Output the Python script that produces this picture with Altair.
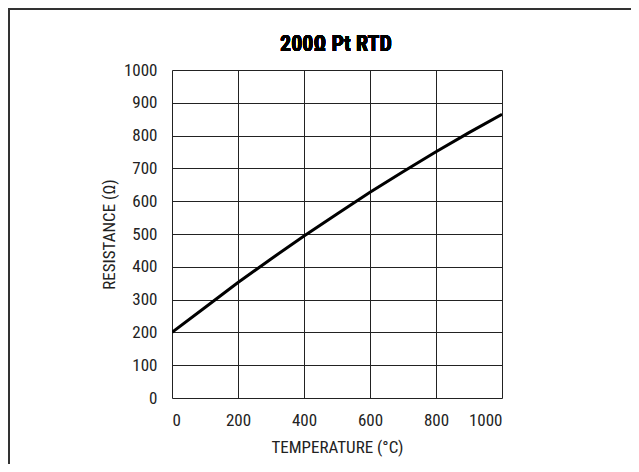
import altair as alt
import pandas as pd

# Temperature (°C) and resistance (Ω)
temperature = [0, 100, 200, 300, 400, 500, 600, 700, 800, 900, 1000]
resistance = [200, 276, 352, 424, 494, 561, 627, 690, 751, 809, 865]

x_ticks = [0, 200, 400, 600, 800, 1000]
y_ticks = [0, 100, 200, 300, 400, 500, 600, 700, 800, 900, 1000]
chart_title = "200Ω Pt RTD"

df = pd.DataFrame({"t": temperature, "r": resistance})

FONT = "Liberation Sans Narrow, Roboto Condensed, Arial Narrow, sans-serif"
W, H = 330, 328

base = alt.Chart(df)

curve = base.mark_line(color="black", strokeWidth=3, clip=True).encode(
    x=alt.X(
        "t:Q",
        scale=alt.Scale(domain=[0, 1000], nice=False),
        axis=alt.Axis(
            values=x_ticks,
            format="d",
            title="TEMPERATURE (°C)",
            grid=True,
            gridColor="#222222",
            gridWidth=1,
            domain=False,
            ticks=False,
            tickSize=0,
            labelPadding=14,
            labelFont=FONT,
            labelFontSize=17,
            labelColor="#222222",
            titleFont=FONT,
            titleFontSize=17,
            titleFontWeight="normal",
            titleColor="#222222",
            titlePadding=11,
        ),
    ),
    y=alt.Y(
        "r:Q",
        scale=alt.Scale(domain=[0, 1000], nice=False),
        axis=alt.Axis(
            values=y_ticks,
            format="d",
            title="RESISTANCE (Ω)",
            grid=True,
            gridColor="#222222",
            gridWidth=1,
            domain=False,
            ticks=False,
            tickSize=0,
            labelPadding=15,
            labelFont=FONT,
            labelFontSize=17,
            labelColor="#222222",
            titleFont=FONT,
            titleFontSize=17,
            titleFontWeight="normal",
            titleColor="#222222",
            titlePadding=5,
        ),
    ),
)

# outer frame of the figure (left and top edges)
frame_top = base.mark_rule(color="#333333", strokeWidth=3).encode(
    x=alt.value(-165), x2=alt.value(W + 140), y=alt.value(-62)
)
frame_left = base.mark_rule(color="#333333", strokeWidth=3).encode(
    x=alt.value(-164), y=alt.value(-63), y2=alt.value(H + 80)
)

title = base.mark_text(
    text=chart_title,
    font=FONT,
    fontSize=22,
    fontWeight="bold",
    color="black",
    align="center",
    baseline="alphabetic",
).encode(x=alt.value(W / 2 - 1), y=alt.value(-19))

chart = (
    alt.layer(frame_top, frame_left, curve, title)
    .properties(
        width=W,
        height=H,
        autosize=alt.AutoSizeParams(type="none"),
        padding={"left": 164, "top": 62, "right": 129, "bottom": 66},
    )
    .configure_view(stroke="black", strokeWidth=3)
    .configure(background="white")
)

chart.save("out.html", embed_options={"renderer": "svg", "actions": False})
